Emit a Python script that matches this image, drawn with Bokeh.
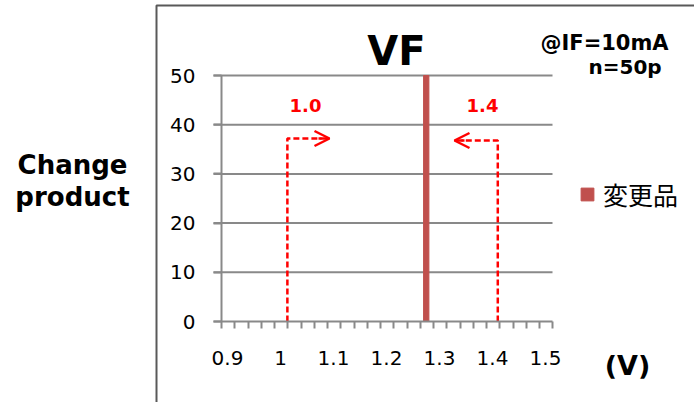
from bokeh.plotting import figure
from bokeh.models import (Range1d, FixedTicker, Label, Arrow, OpenHead, BoxAnnotation,
                          Legend, LegendItem)
from bokeh.embed import file_html
from bokeh.resources import INLINE

# ---- data ----
bin_centers = [1.275]
counts = [50]
series_name = "変更品"
x_ticks = [0.9, 1.0, 1.1, 1.2, 1.3, 1.4, 1.5]
x_tick_labels = ["0.9", "1", "1.1", "1.2", "1.3", "1.4", "1.5"]
y_ticks = [0, 10, 20, 30, 40, 50]
lower_limit_label = "1.0"
upper_limit_label = "1.4"
lower_limit_x = 1.013
upper_limit_x = 1.41
title_text = "VF"
condition_lines = ["@IF=10mA", "n=50p"]
y_label_lines = ["Change", "product"]
x_unit = "(V)"

# ---- geometry helpers (canvas pixel -> data) ----
W, H = 694, 402
AX_L, AX_R, AX_T, AX_B = 221, 552, 75, 321
XA, XB = 0.8887, 0.8887 + 331 / 530.0   # data at AX_L / AX_R
YA, YB = 0, 50                          # data at AX_B / AX_T


def X(px):
    return XA + (px - AX_L) * (XB - XA) / (AX_R - AX_L)


def Y(py):
    return YA + (AX_B - py) * (YB - YA) / (AX_B - AX_T)


p = figure(output_backend="svg", toolbar_location=None, width=W, height=H,
           min_border=0, min_border_left=0, min_border_right=0,
           min_border_top=0, min_border_bottom=0,
           x_range=Range1d(X(0), X(W)), y_range=Range1d(Y(H), Y(0)))
p.outline_line_color = None
p.background_fill_color = "white"
p.border_fill_color = "white"

AX = "#898989"
TICK_FONT = "DejaVu Sans"

# chart-area border
p.add_layout(BoxAnnotation(left=X(156), right=X(W + 50), top=Y(5), bottom=Y(H + 50),
                           fill_alpha=0, line_color="#595959", line_alpha=1,
                           line_width=2, level="underlay"))

# horizontal gridlines (value gridlines, stopping at the plot area)
p.segment(x0=[X(213)] * (len(y_ticks) - 1), x1=[XB] * (len(y_ticks) - 1),
          y0=y_ticks[1:], y1=y_ticks[1:], line_color=AX, line_width=2)

# x axis (drawn at y=0 inside the canvas)
p.xaxis.fixed_location = 0
p.xaxis.bounds = (X(213), XB)
p.xaxis.ticker = FixedTicker(ticks=x_ticks,
                             minor_ticks=[round(XA + 0.025 * k, 5) for k in range(26)])
p.xaxis.major_label_overrides = {t: l for t, l in zip(x_ticks, x_tick_labels)}
p.xaxis.axis_line_color = AX
p.xaxis.axis_line_width = 2
p.xaxis.major_tick_line_color = None
p.xaxis.minor_tick_line_color = AX
p.xaxis.minor_tick_line_width = 2
p.xaxis.major_tick_in = 0
p.xaxis.major_tick_out = 7
p.xaxis.minor_tick_in = 0
p.xaxis.minor_tick_out = 7
p.xaxis.major_label_text_font = TICK_FONT
p.xaxis.major_label_text_font_size = "20px"
p.xaxis.major_label_text_color = "black"
p.xaxis.major_label_standoff = 22

# y axis (drawn at the left edge of the plot area)
p.yaxis.fixed_location = XA
p.yaxis.bounds = (YA, YB)
p.yaxis.ticker = FixedTicker(ticks=y_ticks)
p.yaxis.axis_line_color = AX
p.yaxis.axis_line_width = 2
p.yaxis.major_tick_line_color = AX
p.yaxis.major_tick_line_width = 2
p.yaxis.major_tick_in = 0
p.yaxis.major_tick_out = 8
p.yaxis.minor_tick_line_color = None
p.yaxis.major_label_text_font = TICK_FONT
p.yaxis.major_label_text_font_size = "20px"
p.yaxis.major_label_text_color = "black"
p.yaxis.major_label_standoff = 18

p.xgrid.visible = False
p.ygrid.visible = False

# bar
bar = p.vbar(x=bin_centers, top=counts, width=0.01, bottom=0,
             fill_color="#C0504D", line_color="#C0504D")

# limit brackets
RED = "#FF0000"
ly = Y(138)
uy = Y(140)
p.line([lower_limit_x, lower_limit_x, X(321)], [0, ly, ly], line_color=RED,
       line_width=2.5, line_dash="6 3")
p.line([upper_limit_x, upper_limit_x, X(461)], [0, uy, uy], line_color=RED,
       line_width=2.5, line_dash="6 3")
p.add_layout(Arrow(x_start=X(318), y_start=ly, x_end=X(329), y_end=ly,
                   line_color=RED, line_width=2.5,
                   end=OpenHead(size=15, line_color=RED, line_width=2.5)))
p.add_layout(Arrow(x_start=X(464), y_start=uy, x_end=X(454), y_end=uy,
                   line_color=RED, line_width=2.5,
                   end=OpenHead(size=15, line_color=RED, line_width=2.5)))


def text(txt, px, py, size, color="black", align="center", bold=True):
    p.add_layout(Label(x=X(px), y=Y(py), text=txt, text_align=align,
                       text_baseline="middle", text_color=color,
                       text_font="DejaVu Sans",
                       text_font_style="bold" if bold else "normal",
                       text_font_size=size))


text(lower_limit_label, 305, 105, "18px", color=RED)
text(upper_limit_label, 482, 105, "18px", color=RED)
text(title_text, 396, 50, "40px")
text(condition_lines[0], 540, 42.5, "21px", align="left")
text(condition_lines[1], 588, 66.5, "20px", align="left")
text(y_label_lines[0], 72, 164, "26px")
text(y_label_lines[1], 72, 196, "26px")
text(x_unit, 627, 365, "27px")

# legend
legend = Legend(items=[LegendItem(label=series_name, renderers=[bar])],
                location=(579, H - 212), padding=0, margin=0,
                border_line_color=None, background_fill_alpha=0,
                glyph_width=16, glyph_height=16, label_standoff=8,
                label_text_font="Noto Sans CJK JP", label_text_font_size="25px",
                label_text_color="black",
                label_height=16, label_text_baseline="middle")
p.add_layout(legend, "center")

open("out.html", "w").write(file_html(p, INLINE))
